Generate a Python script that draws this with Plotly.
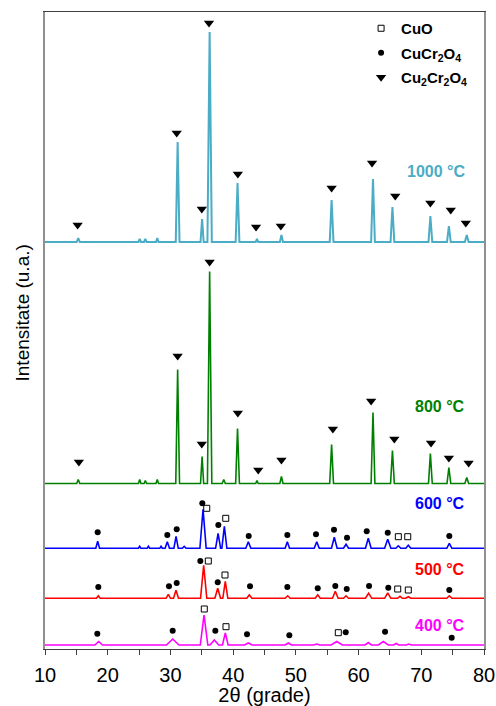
import plotly.graph_objects as go

# ---------------- data ----------------
x_ticks = [10, 20, 30, 40, 50, 60, 70, 80]
temps = ["1000 °C", "800 °C", "600 °C", "500 °C", "400 °C"]

# peak lists per sample: position (2θ), height (a.u.), half base width (2θ)
p1000_x = [15.3, 25.1, 26.0, 27.9, 31.15, 35.05, 36.25, 40.7, 43.8, 47.7, 55.7, 62.3, 65.4, 71.45, 74.4, 77.25]
p1000_h = [4, 3, 3, 4, 100, 23, 210, 59, 3, 7, 42, 63, 35, 26, 16, 7]
p1000_w = [0.25, 0.2, 0.2, 0.2, 0.3, 0.25, 0.35, 0.3, 0.2, 0.25, 0.3, 0.3, 0.3, 0.3, 0.3, 0.3]

p800_x = [15.3, 25.1, 26.0, 27.9, 31.15, 35.05, 36.25, 38.5, 40.7, 43.8, 47.7, 55.7, 62.3, 65.4, 71.45, 74.4, 77.25]
p800_h = [4, 4, 3, 4, 114, 27, 212, 4, 55, 3, 7, 39, 71, 33, 30, 16, 6]
p800_w = [0.25, 0.2, 0.2, 0.2, 0.3, 0.25, 0.35, 0.25, 0.3, 0.2, 0.25, 0.3, 0.3, 0.3, 0.3, 0.3, 0.3]

p600_x = [18.4, 25.1, 26.5, 28.5, 29.5, 30.9, 32.2, 35.2, 37.6, 38.6, 42.42, 48.64, 53.33, 56.13, 58.0, 61.55, 64.65, 66.34, 67.93, 74.47]
p600_h = [7, 2, 2, 2, 6.5, 12, 2, 39, 15, 22, 6.5, 6.5, 6.5, 11, 4, 10, 9, 2.5, 3, 5]
p600_w = [0.3, 0.2, 0.2, 0.2, 0.35, 0.35, 0.3, 0.5, 0.4, 0.4, 0.4, 0.35, 0.4, 0.45, 0.4, 0.45, 0.5, 0.4, 0.4, 0.4]

p500_x = [18.5, 29.66, 30.89, 35.3, 37.54, 38.75, 42.58, 48.7, 53.49, 56.29, 58.0, 61.6, 64.65, 66.6, 67.93, 74.47]
p500_h = [2.5, 4, 8, 33, 10, 17, 3.5, 2.5, 3.5, 7, 2.5, 5, 5.5, 2, 1.5, 2.5]
p500_w = [0.3, 0.35, 0.4, 0.5, 0.45, 0.4, 0.4, 0.4, 0.4, 0.45, 0.4, 0.5, 0.5, 0.4, 0.4, 0.4]

p400_x = [18.56, 30.36, 35.36, 37.0, 38.75, 42.42, 48.8, 53.33, 56.52, 61.55, 63.95, 66.0, 68.0]
p400_h = [3.5, 6, 30, 5, 12, 2, 2, 1, 3.5, 2.5, 3.5, 1.5, 1]
p400_w = [0.6, 1.0, 0.6, 0.7, 0.45, 0.6, 0.5, 0.5, 0.9, 0.5, 0.8, 0.4, 0.4]

# phase markers: position (2θ) and height above the pattern baseline
tri1000_x = [15.2, 31.0, 35.0, 36.15, 40.75, 43.65, 47.6, 55.7, 62.15, 65.85, 71.45, 74.7, 77.1]
tri1000_h = [17, 109, 33, 219, 68, 15, 16, 54, 79, 46, 39, 32, 19]
tri800_x = [15.4, 31.15, 35.0, 36.25, 40.75, 44.0, 47.7, 55.9, 62.0, 65.7, 71.55, 74.4, 77.55]
tri800_h = [21.5, 127.5, 39.5, 221.5, 70.5, 13.5, 23.5, 54.5, 82.5, 44.5, 40.5, 25.5, 20.5]

cir600_x = [18.4, 29.5, 31.0, 35.08, 37.64, 42.48, 48.64, 53.21, 56.08, 58.16, 61.3, 64.65, 74.47]
cir600_h = [16, 13.3, 19, 45, 23.3, 12.3, 13.3, 14, 18.6, 10.6, 17, 15.6, 12.3]
sq600_x = [35.79, 38.82, 66.34, 67.84]
sq600_h = [40, 30, 11.6, 11.6]

cir500_x = [18.5, 29.77, 31.0, 34.77, 37.54, 42.69, 48.64, 53.49, 56.29, 58.11, 61.67, 64.74, 74.47]
cir500_h = [11.3, 12, 15.3, 37.3, 16, 12, 11.3, 10, 12.3, 9.3, 12.3, 10.6, 8.3]
sq500_x = [36.04, 38.7, 66.24, 67.93]
sq500_h = [37.3, 23.3, 9.3, 8.3]

cir400_x = [18.34, 30.36, 37.16, 42.21, 48.96, 57.95, 64.22, 74.85]
cir400_h = [11.3, 14.3, 14.3, 10.7, 9.7, 12.7, 13.3, 7.3]
sq400_x = [35.4, 38.86, 56.77]
sq400_h = [36, 18.3, 12.3]

# ---------------- styling / layout ----------------
colors = ["#4BACC6", "#008000", "#0000FF", "#FF0000", "#FF00FF"]
offsets = [407, 165.5, 100.7, 50.7, 4]      # vertical stacking of patterns
line_w = [2, 1.6, 1.6, 1.6, 1.6]
FONT = "Liberation Sans, Arial, sans-serif"

patterns = [
    (p1000_x, p1000_h, p1000_w),
    (p800_x, p800_h, p800_w),
    (p600_x, p600_h, p600_w),
    (p500_x, p500_h, p500_w),
    (p400_x, p400_h, p400_w),
]

fig = go.Figure()

for (px, ph, pw), off, col, lw in zip(patterns, offsets, colors, line_w):
    xs, ys = [10], [off]
    for x, h, w in zip(px, ph, pw):
        xs += [x - w, x, x + w]
        ys += [off, off + h, off]
    xs.append(80)
    ys.append(off)
    fig.add_trace(go.Scatter(x=xs, y=ys, mode="lines", line=dict(color=col, width=lw),
                             showlegend=False, hoverinfo="skip"))

# markers grouped by phase
sq_x = sq600_x + sq500_x + sq400_x
sq_y = [offsets[2] + h for h in sq600_h] + [offsets[3] + h for h in sq500_h] + [offsets[4] + h for h in sq400_h]
ci_x = cir600_x + cir500_x + cir400_x
ci_y = [offsets[2] + h for h in cir600_h] + [offsets[3] + h for h in cir500_h] + [offsets[4] + h for h in cir400_h]
tr_x = tri1000_x + tri800_x
tr_y = [offsets[0] + h for h in tri1000_h] + [offsets[1] + h for h in tri800_h]

fig.add_trace(go.Scatter(x=sq_x, y=sq_y, mode="markers", name="CuO", legendgroup="a",
                         marker=dict(symbol="square-open", size=6, color="black", line=dict(width=1, color="black"))))
fig.add_trace(go.Scatter(x=ci_x, y=ci_y, mode="markers", name="CuCr<sub>2</sub>O<sub>4</sub>", legendgroup="b",
                         marker=dict(symbol="circle", size=6, color="black")))
fig.add_trace(go.Scatter(x=tr_x, y=tr_y, mode="markers", name="Cu<sub>2</sub>Cr<sub>2</sub>O<sub>4</sub>", legendgroup="c",
                         marker=dict(symbol="triangle-down", size=9, color="black")))

# temperature labels
label_y = [478, 243, 146, 80, 24]
for t, y, col in zip(temps, label_y, colors):
    fig.add_annotation(x=77.3, y=y, text=f"<b>{t}</b>", showarrow=False, xanchor="right", yanchor="middle",
                       font=dict(family=FONT, size=16, color=col))

fig.add_annotation(text="Intensitate (u.a.)", xref="paper", yref="paper", x=-0.052, y=0.527,
                   textangle=-90, showarrow=False, xanchor="center", yanchor="middle",
                   font=dict(family=FONT, size=19, color="black"))

fig.update_layout(
    width=496, height=706,
    margin=dict(l=45, r=12, t=12, b=57, autoexpand=False),
    paper_bgcolor="white", plot_bgcolor="white",
    font=dict(family=FONT, color="black"),
    legend=dict(x=0.72, y=1.0, xanchor="left", yanchor="top", bgcolor="rgba(0,0,0,0)",
                font=dict(family=FONT, size=15, color="black", weight="bold"),
                tracegroupgap=2, itemwidth=30),
    xaxis=dict(range=[10, 80], tickvals=x_ticks, ticks="outside", ticklen=5, tickcolor="#404040",
               showline=True, linecolor="#404040", linewidth=1, mirror=True, showgrid=False, zeroline=False,
               tickfont=dict(family=FONT, size=20), ticklabelstandoff=3, automargin=False,
               minor=dict(dtick=5, ticks="outside", ticklen=5, tickcolor="#404040", showgrid=False),
               title=dict(text="2θ (grade)", font=dict(family=FONT, size=20), standoff=0)),
    yaxis=dict(range=[0, 637], showticklabels=False, ticks="", showline=True, linecolor="#909090",
               linewidth=1.5, mirror=True, showgrid=False, zeroline=False, automargin=False),
)

fig.write_html("out.html")
